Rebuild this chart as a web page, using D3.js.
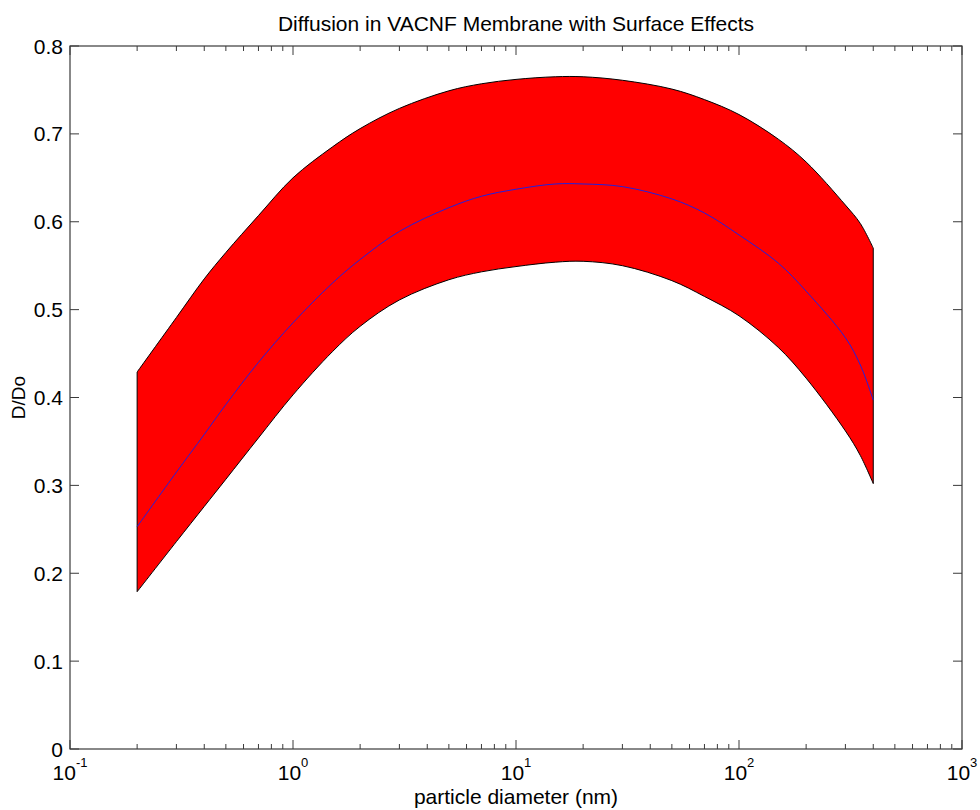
<!DOCTYPE html>
<html>
<head>
<meta charset="utf-8">
<script src="https://cdn.jsdelivr.net/npm/d3@7"></script>
<style>
  body { margin: 0; background: #fff; }
  text { font-family: "Liberation Sans", Arial, Helvetica, sans-serif; fill: #000; }
</style>
</head>
<body>
<script>
// particle diameter (nm) and D/Do values
var diameter = [0.2, 0.3, 0.4, 0.5, 0.7, 1, 1.5, 2, 3, 5, 7, 10, 15, 20, 30, 50, 70, 100, 150, 200, 300, 350, 400];
var dUpper   = [0.429, 0.491, 0.535, 0.565, 0.607, 0.650, 0.685, 0.706, 0.729, 0.749, 0.757, 0.762, 0.765, 0.765, 0.761, 0.751, 0.739, 0.722, 0.694, 0.668, 0.619, 0.598, 0.570];
var dMean    = [0.253, 0.315, 0.358, 0.392, 0.440, 0.485, 0.530, 0.557, 0.589, 0.616, 0.629, 0.637, 0.643, 0.643, 0.640, 0.626, 0.610, 0.585, 0.553, 0.521, 0.468, 0.437, 0.397];
var dLower   = [0.179, 0.236, 0.276, 0.307, 0.354, 0.403, 0.452, 0.481, 0.511, 0.534, 0.543, 0.549, 0.554, 0.555, 0.550, 0.533, 0.515, 0.493, 0.457, 0.422, 0.362, 0.334, 0.302];

var yTicks = [0, 0.1, 0.2, 0.3, 0.4, 0.5, 0.6, 0.7, 0.8];
var xDecades = [-1, 0, 1, 2, 3];

var titleText = "Diffusion in VACNF Membrane with Surface Effects",
    xLabel = "particle diameter (nm)",
    yLabel = "D/Do";

var W = 980, H = 810,
    margin = {top: 46, right: 18, bottom: 61, left: 70},
    width  = W - margin.left - margin.right,
    height = H - margin.top - margin.bottom,
    majorLen = 9,
    minorLen = 5,
    axisColor = "#3a3a3a";

var svg = d3.select("body")
    .append("svg")
    .attr("width", W)
    .attr("height", H);

var g = svg.append("g")
    .attr("transform", "translate(" + margin.left + "," + margin.top + ")");

var x = d3.scaleLog().domain([0.1, 1000]).range([0, width]);
var y = d3.scaleLinear().domain([0, 0.8]).range([height, 0]);

var rows = diameter.map(function(d, i){ return {x: d, lo: dLower[i], mid: dMean[i], hi: dUpper[i]}; });

var smooth = d3.curveCatmullRom.alpha(0.5);

// red band between lower and upper estimates
var area = d3.area()
    .curve(smooth)
    .x(function(d){ return x(d.x); })
    .y0(function(d){ return y(d.lo); })
    .y1(function(d){ return y(d.hi); });

g.append("path")
    .datum(rows)
    .attr("d", area)
    .attr("fill", "#ff0000")
    .attr("stroke", "#000")
    .attr("stroke-width", 1);

// mean curve
var line = d3.line()
    .curve(smooth)
    .x(function(d){ return x(d.x); })
    .y(function(d){ return y(d.mid); });

g.append("path")
    .datum(rows)
    .attr("d", line)
    .attr("fill", "none")
    .attr("stroke", "#2020e0")
    .attr("stroke-width", 1);

// box
g.append("rect")
    .attr("width", width)
    .attr("height", height)
    .attr("fill", "none")
    .attr("stroke", axisColor)
    .attr("stroke-width", 1.2);

// x ticks, inward on bottom and top
var minor = [];
xDecades.slice(0, -1).forEach(function(k){
  for (var m = 2; m <= 9; m++) minor.push(m * Math.pow(10, k));
});
var major = xDecades.map(function(k){ return Math.pow(10, k); });

function xTickMarks(vals, len) {
  var t = g.append("g");
  t.selectAll(".b").data(vals).enter().append("line")
      .attr("x1", function(d){ return x(d); }).attr("x2", function(d){ return x(d); })
      .attr("y1", height).attr("y2", height - len)
      .attr("stroke", axisColor);
  t.selectAll(".t").data(vals).enter().append("line")
      .attr("x1", function(d){ return x(d); }).attr("x2", function(d){ return x(d); })
      .attr("y1", 0).attr("y2", len)
      .attr("stroke", axisColor);
}
xTickMarks(minor, minorLen);
xTickMarks(major, majorLen);

// y ticks, inward on left and right
g.selectAll(".yl").data(yTicks).enter().append("line")
    .attr("x1", 0).attr("x2", majorLen)
    .attr("y1", function(d){ return y(d); }).attr("y2", function(d){ return y(d); })
    .attr("stroke", axisColor);
g.selectAll(".yr").data(yTicks).enter().append("line")
    .attr("x1", width).attr("x2", width - majorLen)
    .attr("y1", function(d){ return y(d); }).attr("y2", function(d){ return y(d); })
    .attr("stroke", axisColor);

// y tick labels
g.selectAll(".ylab").data(yTicks).enter().append("text")
    .attr("x", -7)
    .attr("y", function(d){ return y(d); })
    .attr("dy", "0.36em")
    .attr("text-anchor", "end")
    .style("font-size", "21px")
    .text(function(d){ return d === 0 ? "0" : d3.format(".1f")(d); });

// x tick labels as 10^k
var xl = g.selectAll(".xlab").data(xDecades).enter().append("text")
    .attr("x", function(d){ return x(Math.pow(10, d)); })
    .attr("y", height + 31)
    .attr("text-anchor", "middle")
    .style("font-size", "21px");
xl.append("tspan").text("10");
xl.append("tspan")
    .attr("dy", -13)
    .style("font-size", "13px")
    .text(function(d){ return String(d); });

// title and axis labels
svg.append("text")
    .attr("x", margin.left + width / 2)
    .attr("y", 31)
    .attr("text-anchor", "middle")
    .style("font-size", "21px")
    .text(titleText);

svg.append("text")
    .attr("x", margin.left + width / 2)
    .attr("y", 804)
    .attr("text-anchor", "middle")
    .style("font-size", "21px")
    .text(xLabel);

svg.append("text")
    .attr("transform", "translate(25," + (margin.top + height / 2) + ") rotate(-90)")
    .attr("text-anchor", "middle")
    .style("font-size", "19px")
    .text(yLabel);
</script>
</body>
</html>
